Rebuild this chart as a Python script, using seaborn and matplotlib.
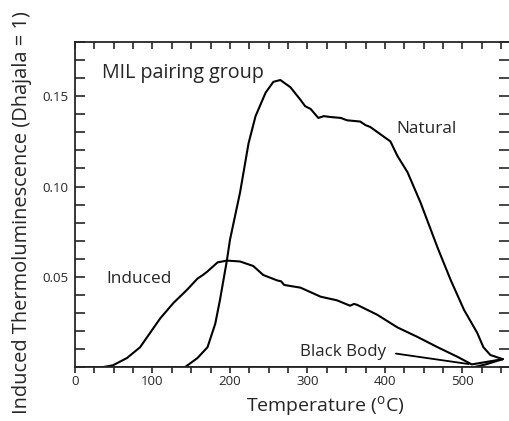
import numpy as np
import pandas as pd
import seaborn as sns
import matplotlib.pyplot as plt
from matplotlib.ticker import MultipleLocator

# values
induced_t = [0, 36, 49, 67, 84, 97, 110, 127, 145, 158, 165, 171, 184, 196, 213, 230,
             243, 261, 266, 270, 291, 317, 338, 355, 360, 364, 390, 416, 442, 468, 494, 512, 552]
induced_v = [0, 0, 0.001, 0.005, 0.011, 0.019, 0.027, 0.0355, 0.043, 0.049, 0.051, 0.053,
             0.058, 0.059, 0.0585, 0.056, 0.051, 0.048, 0.0475, 0.0455, 0.044, 0.039, 0.037,
             0.034, 0.035, 0.0345, 0.029, 0.022, 0.0167, 0.011, 0.0056, 0.0015, 0.0044]

natural_t = [142, 158, 171, 181, 187, 196, 200, 213, 224, 233, 246, 256, 265, 278, 291, 297,
             304, 314, 321, 330, 343, 351, 368, 375, 381, 394, 407, 416, 429, 446, 468, 485,
             502, 519, 527, 536, 552]
natural_v = [0, 0.005, 0.011, 0.024, 0.037, 0.059, 0.0705, 0.0967, 0.124, 0.139, 0.152, 0.158,
             0.159, 0.155, 0.148, 0.1445, 0.143, 0.138, 0.139, 0.1385, 0.138, 0.1367, 0.136,
             0.134, 0.133, 0.129, 0.125, 0.117, 0.108, 0.091, 0.066, 0.048, 0.0317, 0.019,
             0.011, 0.0067, 0.0044]

blackbody_t = [0, 515, 530, 552]
blackbody_v = [0, 0, 0.0015, 0.0044]

sns.set_style("ticks")
plt.rcParams['font.family'] = ['Open Sans', 'DejaVu Sans']

fig = plt.figure(figsize=(5.1, 4.21), dpi=100)
ax = fig.add_axes([0.147, 0.128, 0.851, 0.772])

for t, v in [(induced_t, induced_v), (natural_t, natural_v), (blackbody_t, blackbody_v)]:
    sns.lineplot(x=t, y=v, ax=ax, color="black", linewidth=1.5, sort=False)

ax.set_xlim(0, 560)
ax.set_ylim(0, 0.18)

ax.xaxis.set_major_locator(MultipleLocator(100))
ax.xaxis.set_minor_locator(MultipleLocator(25))
ax.set_yticks([0.05, 0.10, 0.15])
ax.set_yticklabels(["0.05", "0.10", "0.15"])
ax.yaxis.set_minor_locator(MultipleLocator(0.01))

ax.tick_params(axis='x', which='both', direction='out', length=4, width=1.2,
               top=True, labelsize=9.5, pad=1.5)
ax.tick_params(axis='y', which='both', direction='in', length=7, width=1.2,
               right=True, labelsize=9.5, pad=5)

# top ticks point into the plot
for t in ax.xaxis.get_major_ticks() + ax.xaxis.get_minor_ticks():
    t.tick2line.set_marker(3)
    t.tick2line.set_markersize(5)

for s in ['left', 'bottom', 'top']:
    ax.spines[s].set_linewidth(1.3)
ax.spines['right'].set_visible(False)

ax.text(35, 0.163, "MIL pairing group", fontsize=14.2, va='center', ha='left')
ax.text(415, 0.132, "Natural", fontsize=12.4, va='center', ha='left')
ax.text(41, 0.0488, "Induced", fontsize=12.4, va='center', ha='left')
ax.annotate("Black Body", xy=(508, 0.0017), xytext=(290, 0.0083),
            fontsize=12.2, va='center', ha='left',
            arrowprops=dict(arrowstyle='-', color='black', lw=1.3,
                            relpos=(1, 0.5), shrinkA=5, shrinkB=0))

ax.set_xlabel("Temperature ($^\\mathregular{o}$C)", fontsize=14, labelpad=5)
ax.set_ylabel("Induced Thermoluminescence (Dhajala = 1)", fontsize=14.4, labelpad=7)
ax.xaxis.label.set_x(0.576)
ax.yaxis.label.set_y(0.474)

fig.savefig("out.png", dpi=100)
